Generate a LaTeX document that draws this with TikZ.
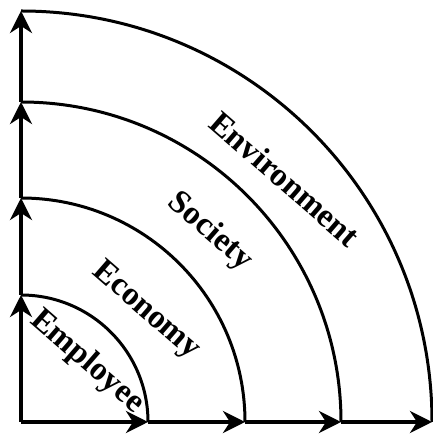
\documentclass[tikz,border=0pt]{standalone}
\usepackage{fontspec}
\setmainfont{Liberation Serif}
\usetikzlibrary{arrows.meta}
\begin{document}
\begin{tikzpicture}[x=1pt,y=1pt,
  axis/.style={line width=4pt,-{Stealth[length=22pt,width=22pt,inset=7pt]}},
  ring/.style={line width=3pt},
  lbl/.style={font=\bfseries\fontsize{33}{38}\selectfont,rotate=-41,inner sep=0pt}]
\useasboundingbox (-21,-13) rectangle (411,422);
\coordinate (O) at (0,0);
\coordinate (x1) at (127,0);
\coordinate (x2) at (224,0);
\coordinate (x3) at (320,0);
\coordinate (x4) at (411,0);
\coordinate (y1) at (0,127);
\coordinate (y2) at (0,224);
\coordinate (y3) at (0,320);
\coordinate (y4) at (0,411);
% arcs
\draw[ring] (y1) arc[start angle=90,end angle=0,radius=127];
\draw[ring] (y2) arc[start angle=90,end angle=0,radius=224];
\draw[ring] (y3) arc[start angle=90,end angle=0,radius=320];
\draw[ring] (y4) arc[start angle=90,end angle=0,radius=411];
% axes
\draw[axis] (O) -- (x1);
\draw[axis] (x1) -- (x2);
\draw[axis] (x2) -- (x3);
\draw[axis] (x3) -- (x4);
\draw[axis] (O) -- (y1);
\draw[axis] (y1) -- (y2);
\draw[axis] (y2) -- (y3);
\draw[axis] (y3) -- (y4);
% labels
\node[lbl] (employee) at (66,60) {Employee};
\node[lbl] (economy) at (125,111) {Economy};
\node[lbl] (society) at (189,190) {Society};
\node[lbl] (environment) at (264,243) {Environment};
\end{tikzpicture}
\end{document}
